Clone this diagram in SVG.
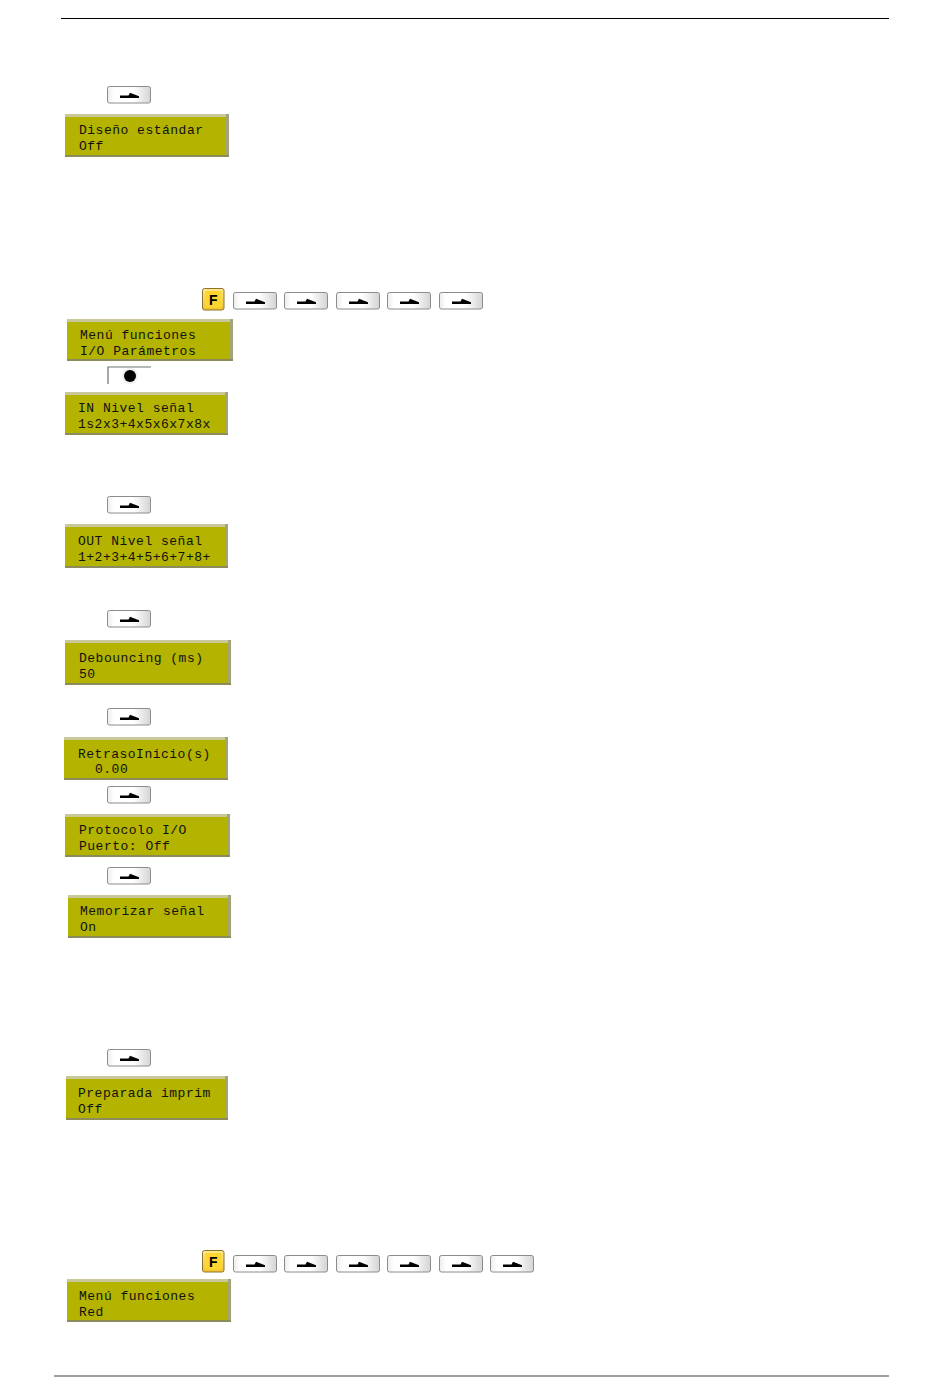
<svg xmlns="http://www.w3.org/2000/svg" xmlns:xlink="http://www.w3.org/1999/xlink" width="950" height="1397" viewBox="0 0 950 1397">
<style>
.lcd{fill:#b3b300}
.lcdtop{fill:#c8c89a}
.lcdright{fill:#a4a47a}
.lcdbot{fill:#8c8c5a}
.lt{font-family:"Liberation Mono","DejaVu Sans Mono",monospace;font-size:13px;letter-spacing:0.5px;fill:#111}
.fk{font-family:"Liberation Sans",Arial,sans-serif;font-weight:bold;font-size:14px;fill:#000}
</style>
<defs>
<linearGradient id="kg" x1="0" y1="0" x2="1" y2="0">
<stop offset="0" stop-color="#ececec"/>
<stop offset="0.15" stop-color="#ffffff"/>
<stop offset="0.6" stop-color="#ffffff"/>
<stop offset="1" stop-color="#d4d4d4"/>
</linearGradient>
<linearGradient id="fg" x1="0" y1="0" x2="0" y2="1">
<stop offset="0" stop-color="#ffe98a"/>
<stop offset="1" stop-color="#f2c42a"/>
</linearGradient>
<symbol id="key" overflow="visible">
<rect x="0.5" y="0.5" width="43" height="16.5" rx="2" fill="url(#kg)" stroke="#8c8c8c" stroke-width="1"/>
<polygon points="13,9.6 21.5,9.6 23,6.8 32,10.2 32,12 13,12" fill="#000"/>
</symbol>
<symbol id="fkey" overflow="visible">
<rect x="0.5" y="0.5" width="21.5" height="21.5" rx="2" fill="url(#fg)" stroke="#8a7430" stroke-width="1"/>
<rect x="3" y="3" width="16.5" height="16.5" rx="1" fill="#ffd530"/>
<text class="fk" x="11.3" y="16.5" text-anchor="middle">F</text>
</symbol>
</defs>
<rect width="950" height="1397" fill="#fff"/>
<line x1="61" y1="18.5" x2="889" y2="18.5" stroke="#000" stroke-width="1.2"/>
<line x1="54" y1="1376" x2="889" y2="1376" stroke="#a0a0a0" stroke-width="2"/>
<g id="connectors"/>

<g id="key1"><use xlink:href="#key" x="107" y="86"/></g>
<g id="lcd1">
<rect class="lcdtop" x="65" y="114" width="164" height="3"/>
<rect class="lcd" x="65" y="117" width="161" height="38"/>
<rect class="lcdright" x="226" y="114" width="3" height="43"/>
<rect class="lcdbot" x="65" y="155" width="164" height="2"/>
<text class="lt" x="79" y="134">Diseño estándar</text>
<text class="lt" x="79" y="150">Off</text>
</g>

<g id="keyrow1">
<use xlink:href="#fkey" x="202" y="288"/>
<use xlink:href="#key" x="233" y="292"/>
<use xlink:href="#key" x="284" y="292"/>
<use xlink:href="#key" x="336" y="292"/>
<use xlink:href="#key" x="387" y="292"/>
<use xlink:href="#key" x="439" y="292"/>
</g>
<g id="lcd2">
<rect class="lcdtop" x="67" y="319" width="166" height="3"/>
<rect class="lcd" x="67" y="322" width="163" height="37"/>
<rect class="lcdright" x="230" y="319" width="3" height="42"/>
<rect class="lcdbot" x="67" y="359" width="166" height="2"/>
<text class="lt" x="80" y="339">Menú funciones</text>
<text class="lt" x="80" y="355">I/O Parámetros</text>
</g>
<g id="dotkey">
<polyline points="108,384 108,367 151,367" fill="none" stroke="#707070" stroke-width="1.2"/>
<circle cx="130" cy="376" r="8" fill="#f0f0f0"/>
<circle cx="130" cy="376" r="6" fill="#000"/>
</g>
<g id="lcd3">
<rect class="lcdtop" x="65" y="392" width="163" height="3"/>
<rect class="lcd" x="65" y="395" width="160" height="38"/>
<rect class="lcdright" x="225" y="392" width="3" height="43"/>
<rect class="lcdbot" x="65" y="433" width="163" height="2"/>
<text class="lt" x="78" y="412">IN Nivel señal</text>
<text class="lt" x="78" y="428">1s2x3+4x5x6x7x8x</text>
</g>

<g id="key2"><use xlink:href="#key" x="107" y="496"/></g>
<g id="lcd4">
<rect class="lcdtop" x="65" y="524" width="163" height="3"/>
<rect class="lcd" x="65" y="527" width="160" height="39"/>
<rect class="lcdright" x="225" y="524" width="3" height="44"/>
<rect class="lcdbot" x="65" y="566" width="163" height="2"/>
<text class="lt" x="78" y="545">OUT Nivel señal</text>
<text class="lt" x="78" y="561">1+2+3+4+5+6+7+8+</text>
</g>

<g id="key3"><use xlink:href="#key" x="107" y="610"/></g>
<g id="lcd5">
<rect class="lcdtop" x="65" y="640" width="166" height="3"/>
<rect class="lcd" x="65" y="643" width="163" height="40"/>
<rect class="lcdright" x="228" y="640" width="3" height="45"/>
<rect class="lcdbot" x="65" y="683" width="166" height="2"/>
<text class="lt" x="79" y="662">Debouncing (ms)</text>
<text class="lt" x="79" y="678">50</text>
</g>

<g id="key4"><use xlink:href="#key" x="107" y="708"/></g>
<g id="lcd6">
<rect class="lcdtop" x="64" y="737" width="164" height="3"/>
<rect class="lcd" x="64" y="740" width="161" height="38"/>
<rect class="lcdright" x="225" y="737" width="3" height="43"/>
<rect class="lcdbot" x="64" y="778" width="164" height="2"/>
<text class="lt" x="78" y="758">RetrasoInicio(s)</text>
<text class="lt" x="95" y="773">0.00</text>
</g>

<g id="key5"><use xlink:href="#key" x="107" y="786"/></g>
<g id="lcd7">
<rect class="lcdtop" x="65" y="814" width="165" height="3"/>
<rect class="lcd" x="65" y="817" width="162" height="38"/>
<rect class="lcdright" x="227" y="814" width="3" height="43"/>
<rect class="lcdbot" x="65" y="855" width="165" height="2"/>
<text class="lt" x="79" y="834">Protocolo I/O</text>
<text class="lt" x="79" y="850">Puerto: Off</text>
</g>

<g id="key6"><use xlink:href="#key" x="107" y="867"/></g>
<g id="lcd8">
<rect class="lcdtop" x="68" y="895" width="163" height="3"/>
<rect class="lcd" x="68" y="898" width="160" height="38"/>
<rect class="lcdright" x="228" y="895" width="3" height="43"/>
<rect class="lcdbot" x="68" y="936" width="163" height="2"/>
<text class="lt" x="80" y="915">Memorizar señal</text>
<text class="lt" x="80" y="931">On</text>
</g>

<g id="key7"><use xlink:href="#key" x="107" y="1049"/></g>
<g id="lcd9">
<rect class="lcdtop" x="66" y="1076" width="162" height="3"/>
<rect class="lcd" x="66" y="1079" width="159" height="39"/>
<rect class="lcdright" x="225" y="1076" width="3" height="44"/>
<rect class="lcdbot" x="66" y="1118" width="162" height="2"/>
<text class="lt" x="78" y="1097">Preparada imprim</text>
<text class="lt" x="78" y="1113">Off</text>
</g>

<g id="keyrow2">
<use xlink:href="#fkey" x="202" y="1250"/>
<use xlink:href="#key" x="233" y="1255"/>
<use xlink:href="#key" x="284" y="1255"/>
<use xlink:href="#key" x="336" y="1255"/>
<use xlink:href="#key" x="387" y="1255"/>
<use xlink:href="#key" x="439" y="1255"/>
<use xlink:href="#key" x="490" y="1255"/>
</g>
<g id="lcd10">
<rect class="lcdtop" x="67" y="1279" width="164" height="3"/>
<rect class="lcd" x="67" y="1282" width="161" height="38"/>
<rect class="lcdright" x="228" y="1279" width="3" height="43"/>
<rect class="lcdbot" x="67" y="1320" width="164" height="2"/>
<text class="lt" x="79" y="1300">Menú funciones</text>
<text class="lt" x="79" y="1316">Red</text>
</g>
</svg>
